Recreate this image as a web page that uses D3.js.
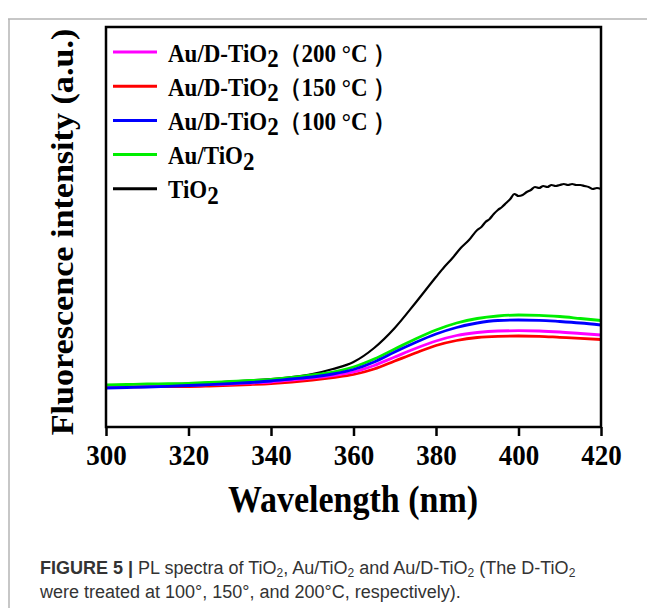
<!DOCTYPE html>
<html>
<head>
<meta charset="utf-8">
<script src="https://cdn.jsdelivr.net/npm/d3@7/dist/d3.min.js"></script>
<style>
  html, body { margin: 0; padding: 0; background: #fff; }
  svg { display: block; }
</style>
</head>
<body>
<svg id="chart" width="647" height="608"></svg>
<script>
// ---------- DATA ----------
const wavelengths = [300,305,310,315,320,325,330,335,340,345,350,355,360,365,370,375,380,385,390,395,400,405,410,415,420];
const au200 = [41,41.2,41.4,41.5,41.7,42.3,43,44,45,47,49,51.5,55,61.5,70,78.5,86,91.5,94.5,96,96.3,96,95,93.5,92];
const au150 = [40,40.2,40.3,40.4,40.5,41,41.7,42.5,43.5,45,47,49.5,52.5,58,66,74,81.5,86.5,89.5,90.7,91,90.7,89.7,88.7,87.5];
const au100 = [39,39.5,40,40.7,41.5,42.3,43.3,44.5,46,48,50,53,57.5,65,75,84.5,93,99.5,104,106.5,107,106.7,105.5,104,102];
const auTiO2 = [42,42.5,43,43.3,43.7,44.5,45.5,46.5,47.7,49.5,52,55,60,68,78,88,97,104,108.5,111,112,111.7,110.5,108.5,106.5];
const tio2Wavelengths = [300,310,320,330,340,345,350,355,360,365,370,375,380,382,384,386,388,390,391,392,393,394,395,396,397,398,399,400,401,402,403,404,405,406,407,408,409,410,411,412,413,414,415,416,417,418,419,420];
const tio2 = [41.5,42.5,43.5,45.5,48,50,53,58,65,79,99,124,150,160,169,179,187,197,200,205,208,213,217,220,224,228,233,231,232,235,237,240,239,241,240,242,241,242,243,242,243,242,242,241,240,238,239,238];
const xTicks = [300,320,340,360,380,400,420];
const seriesNames = ["Au/D-TiO2 (200 °C)","Au/D-TiO2 (150 °C)","Au/D-TiO2 (100 °C)","Au/TiO2","TiO2"];
const seriesColors = ["#ff00ff","#ff0000","#0000ff","#00ee00","#000000"];

// ---------- LAYOUT ----------
const svg = d3.select("#chart");
const serif = "'Liberation Serif','Times New Roman',Times,serif";
const mLeft = 106, mRight = 601, mTop = 27, mBottom = 427;

const x = d3.scaleLinear().domain([300, 420]).range([mLeft, mRight]);
const y = d3.scaleLinear().domain([0, 400]).range([mBottom, mTop]);

// outer gray page frame
svg.append("line").attr("x1", 8).attr("x2", 647).attr("y1", 19).attr("y2", 19)
  .attr("stroke", "#b5b5b5").attr("stroke-width", 1.5);
svg.append("line").attr("x1", 9).attr("x2", 9).attr("y1", 19).attr("y2", 608)
  .attr("stroke", "#b5b5b5").attr("stroke-width", 1.5);

// curves
const line = d3.line().curve(d3.curveMonotoneX);
const colored = [
  {vals: tio2, wl: tio2Wavelengths, color: seriesColors[4], w: 2.2},
  {vals: au150, wl: wavelengths, color: seriesColors[1], w: 2.8},
  {vals: au200, wl: wavelengths, color: seriesColors[0], w: 2.8},
  {vals: auTiO2, wl: wavelengths, color: seriesColors[3], w: 2.8},
  {vals: au100, wl: wavelengths, color: seriesColors[2], w: 2.8}
];
colored.forEach(s => {
  svg.append("path")
    .attr("d", line(s.wl.map((w, i) => [x(w), y(s.vals[i])])))
    .attr("fill", "none").attr("stroke", s.color).attr("stroke-width", s.w)
    .attr("stroke-linejoin", "round");
});

// frame
svg.append("rect").attr("x", mLeft).attr("y", mTop).attr("width", mRight - mLeft).attr("height", mBottom - mTop)
  .attr("fill", "none").attr("stroke", "#000").attr("stroke-width", 2.5);

// x axis
const xAxis = svg.append("g").attr("transform", `translate(0,${mBottom})`)
  .call(d3.axisBottom(x).tickValues(xTicks).tickSize(9).tickFormat(d3.format("d")));
xAxis.select(".domain").remove();
xAxis.selectAll(".tick line").attr("stroke", "#000").attr("stroke-width", 2.5);
xAxis.selectAll(".tick text")
  .attr("y", 0).attr("dy", null)
  .attr("transform", "translate(0,38) scale(1,1.1)")
  .attr("font-family", serif).attr("font-weight", "bold").attr("font-size", 27).attr("fill", "#000");

// axis titles
svg.append("text").attr("transform", "translate(353,512) scale(1,1.1)")
  .attr("text-anchor", "middle").attr("font-family", serif).attr("font-weight", "bold")
  .attr("font-size", 34).text("Wavelength (nm)");
svg.append("text").attr("transform", "translate(73,232) rotate(-90) scale(1.1,1)")
  .attr("text-anchor", "middle").attr("font-family", serif).attr("font-weight", "bold")
  .attr("font-size", 31).text("Fluorescence intensity (a.u.)");

// legend
const legendRows = [
  {main: "Au/D-TiO", sub: "2", tail: "（200 °C ）", color: seriesColors[0]},
  {main: "Au/D-TiO", sub: "2", tail: "（150 °C ）", color: seriesColors[1]},
  {main: "Au/D-TiO", sub: "2", tail: "（100 °C ）", color: seriesColors[2]},
  {main: "Au/TiO", sub: "2", tail: "", color: seriesColors[3]},
  {main: "TiO", sub: "2", tail: "", color: seriesColors[4]}
];
legendRows.forEach((r, i) => {
  const cy = 52 + i * 34.2;
  svg.append("line").attr("x1", 113).attr("x2", 157).attr("y1", cy).attr("y2", cy)
    .attr("stroke", r.color).attr("stroke-width", 3);
  const t = svg.append("text").attr("transform", `translate(168,${cy + 9.5}) scale(1,1.1)`)
    .attr("font-family", serif).attr("font-weight", "bold").attr("font-size", 23).attr("fill", "#000");
  t.append("tspan").text(r.main);
  t.append("tspan").attr("dy", 5).text(r.sub);
  if (r.tail) t.append("tspan").attr("dy", -5).text(r.tail);
});

// caption
const sans = "'Liberation Sans',Arial,Helvetica,sans-serif";
const cap1 = svg.append("text").attr("transform", "translate(40,574)")
  .attr("font-family", sans).attr("font-size", 18).attr("fill", "#333");
cap1.append("tspan").attr("font-weight", "bold").text("FIGURE 5 | ");
const parts = [["PL spectra of TiO",0],["2",1],[", Au/TiO",0],["2",1],[" and Au/D-TiO",0],["2",1],[" (The D-TiO",0],["2",1]];
parts.forEach(p => {
  const ts = cap1.append("tspan").text(p[0]);
  if (p[1]) ts.attr("font-size", 12).attr("baseline-shift", "-25%");
});
svg.append("text").attr("transform", "translate(40,598)")
  .attr("font-family", sans).attr("font-size", 18).attr("fill", "#333")
  .text("were treated at 100°, 150°, and 200°C, respectively).");
</script>
</body>
</html>
